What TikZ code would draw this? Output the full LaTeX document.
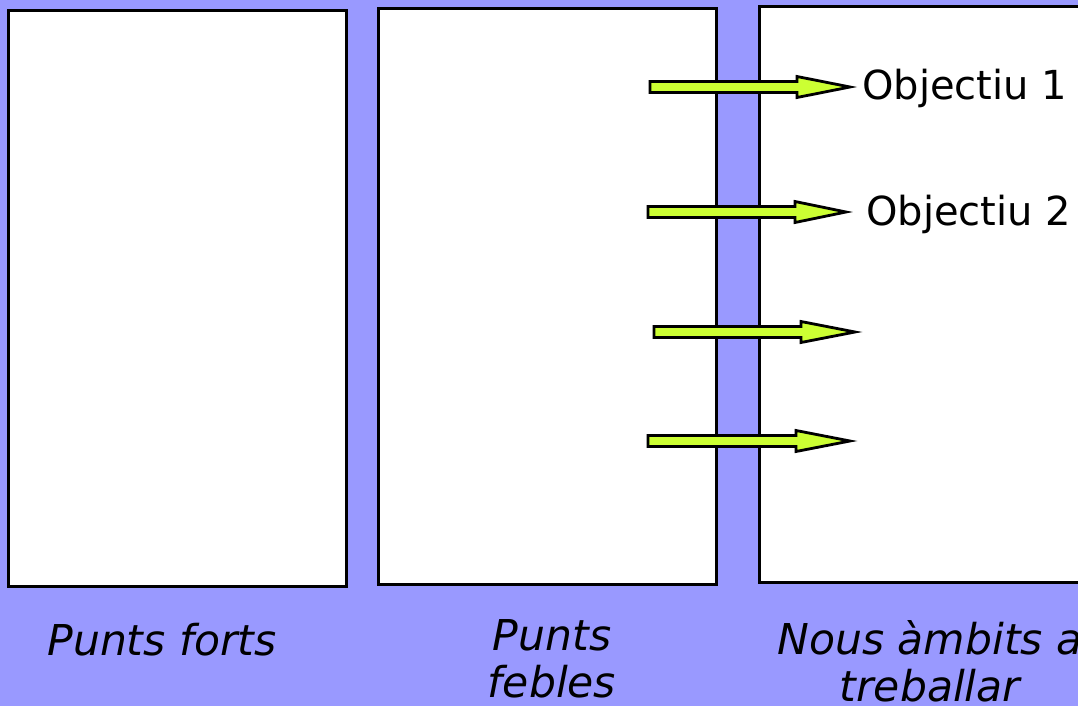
\documentclass[tikz,border=0pt]{standalone}
\usepackage{fontspec}
\setmainfont{DejaVu Sans}
\definecolor{bgblue}{HTML}{9999FF}
\definecolor{arrowgreen}{HTML}{CCFF33}
\tikzset{
  panel/.style={draw=black, fill=white, line width=3pt},
  blockarrow/.style={draw=black, fill=arrowgreen, line width=2.8pt, line join=miter},
  objlabel/.style={inner sep=0pt, anchor=base west, font=\fontsize{40}{47}\selectfont},
  caption/.style={inner sep=0pt, align=center, font=\fontsize{42.5}{47}\selectfont\itshape},
}
\newcommand\blockarr[5]{% name, tail x, head start x, tip x, y
  \coordinate (#1-tail) at (#2,#5);
  \coordinate (#1-tip) at (#4,#5);
  \draw[blockarrow] (#2,#5-5.5) -- (#3,#5-5.5) -- (#3,#5-10.5) -- (#1-tip)
     -- (#3,#5+10.5) -- (#3,#5+5.5) -- (#2,#5+5.5) -- cycle;
}
\begin{document}
\begin{tikzpicture}[x=1pt,y=-1pt]
\useasboundingbox (0,0) rectangle (1078,706);
\clip (0,0) rectangle (1078,706);
\fill[bgblue] (0,0) rectangle (1078,706);
\node[panel, minimum width=338pt, minimum height=576pt, anchor=north west, inner sep=0pt] (p1) at (7,9) {};
\node[panel, minimum width=338pt, minimum height=576pt, anchor=north west, inner sep=0pt] (p2) at (377,7) {};
\node[panel, minimum width=340pt, minimum height=576pt, anchor=north west, inner sep=0pt] (p3) at (758,5) {};
\blockarr{a1}{650}{797}{850}{87}
\blockarr{a2}{648}{795}{846}{212}
\blockarr{a3}{654}{801}{855}{332}
\blockarr{a4}{648}{796}{850}{441}
\node[objlabel] (o1) at (862,100) {Objectiu 1};
\node[objlabel] (o2) at (866,225) {Objectiu 2};
\node[caption, anchor=base] (c1) at (162,655) {Punts forts};
\node[caption, anchor=center] (c2) at (552,659) {Punts\\febles};
\node[caption, anchor=center] (c3) at (930,661) {Nous àmbits a\\treballar};
\end{tikzpicture}
\end{document}
